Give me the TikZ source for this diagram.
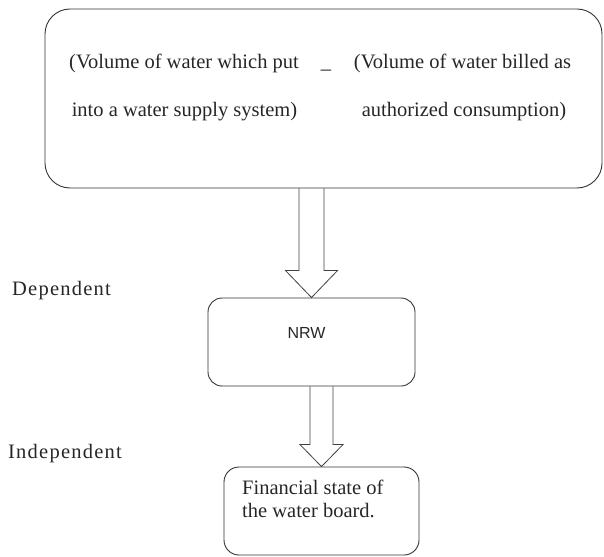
\documentclass[tikz,border=0pt]{standalone}
\usepackage{fontspec}
\setmainfont{Liberation Serif}
\newfontfamily\sidefont[LetterSpace=6]{Liberation Serif}
\newfontfamily\nrwfont{Liberation Sans}
\usetikzlibrary{calc}

% hollow block arrow: from, to, shaft half width, head half width, head length
\newcommand{\blockarrow}[5]{%
  \draw[fat] let \p1=(#1), \p2=(#2) in
    (\x1-#3pt,\y1) -- (\x1-#3pt,\y2+#5pt) -- (\x1-#4pt,\y2+#5pt) -- (\x1,\y2)
    -- (\x1+#4pt,\y2+#5pt) -- (\x1+#3pt,\y2+#5pt) -- (\x1+#3pt,\y1);
}

\begin{document}
\begin{tikzpicture}[x=1pt,y=-1pt,
  box/.style={draw=black!80,line width=0.9pt,inner sep=0pt},
  txt/.style={font=\fontsize{20.5}{24}\selectfont,text=black!85,anchor=base,inner sep=0pt},
  side/.style={font=\sidefont\fontsize{20.5}{24}\selectfont,text=black!85,anchor=base west,inner sep=0pt},
  fat/.style={draw=black!75,line width=0.8pt,line join=miter}]
\useasboundingbox (0,0) rectangle (604,556);
% volume difference
\node[box,minimum width=557,minimum height=179,rounded corners=25] (vol) at (323.5,98.5) {};
\node[txt] (inl1) at (184,69) {(Volume of water which put};
\node[txt] (inl2) at (184.5,117) {into a water supply system)};
\node[txt] (minus) at (326,69) {\_};
\node[txt] (bil1) at (462.5,69) {(Volume of water billed as};
\node[txt] (bil2) at (464,117) {authorized consumption)};
% NRW
\node[box,minimum width=207,minimum height=88,rounded corners=14] (nrw) at (311.5,342) {};
\node[anchor=base,inner sep=0pt,text=black!85,font=\nrwfont\fontsize{16}{19}\selectfont] (nrwtxt) at (306.5,338) {NRW};
% financial state
\node[box,minimum width=195,minimum height=88,rounded corners=15] (fin) at (321.5,511) {};
\node[txt,anchor=base west] (fin1) at (242,494) {Financial state of};
\node[txt,anchor=base west] (fin2) at (242,517) {the water board.};
% side labels
\node[side] (dep) at (12,295) {Dependent};
\node[side] (indep) at (8,458) {Independent};
% arrows
\blockarrow{vol.south -| nrw.north}{nrw.north}{12.5}{26}{27}
\blockarrow{nrw.south -| fin.north}{fin.north}{11.5}{21.5}{22}
\end{tikzpicture}
\end{document}
